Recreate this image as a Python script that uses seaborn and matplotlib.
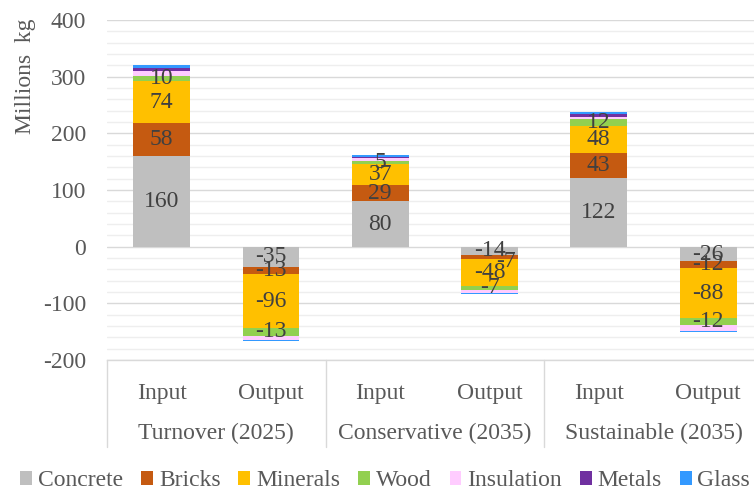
import numpy as np
import pandas as pd
import matplotlib
matplotlib.use("Agg")
import matplotlib.pyplot as plt
import seaborn as sns
from matplotlib.patches import Patch
from matplotlib.ticker import MultipleLocator
from matplotlib.transforms import blended_transform_factory, offset_copy

# Scenario groups and flows (one bar per scenario/flow pair)
scenarios = ["Turnover (2025)", "Conservative (2035)", "Sustainable (2035)"]
flows = ["Input", "Output"]
materials = ["Concrete", "Bricks", "Minerals", "Wood", "Insulation", "Metals", "Glass"]
colors = ["#BFBFBF", "#C55A11", "#FFC000", "#92D050", "#FFCCFF", "#7030A0", "#3399FF"]

# Material flows, millions kg, ordered:
# Turnover In, Turnover Out, Conservative In, Conservative Out, Sustainable In, Sustainable Out
concrete = [160, -35, 80, -14, 122, -26]
bricks = [58, -13, 29, -7, 43, -12]
minerals = [74, -96, 37, -48, 48, -88]
wood = [10, -13, 5, -7, 12, -12]
insulation = [8, -7, 5, -5, 4, -11]
metals = [6, -1, 3, -1, 6, -0.5]
glass = [5, -1, 3, -2, 3, -1.5]

# Which materials carry a value label
labelled = ["Concrete", "Bricks", "Minerals", "Wood"]

series = [concrete, bricks, minerals, wood, insulation, metals, glass]
bar_ids = [f"{s}|{f}" for s in scenarios for f in flows]

rows = []
for mat, vals in zip(materials, series):
    for bid, v in zip(bar_ids, vals):
        rows.append({"bar": bid, "material": mat, "value": v})
df = pd.DataFrame(rows)

sns.set_theme(style="white")
plt.rcParams["font.family"] = ["Liberation Serif", "DejaVu Serif"]

TEXT = "#595959"
LABEL = "#404040"
FS = 17

fig = plt.figure(figsize=(7.54, 4.92), dpi=100)
W, H = 754, 492
left_px, right_px, top_px, bot_px = 107, 754, 20, 360
ax = fig.add_axes([left_px / W, 1 - bot_px / H, (right_px - left_px) / W, (bot_px - top_px) / H])

bottom = np.zeros(len(bar_ids))
for mat, col in zip(materials, colors):
    sub = df[df["material"] == mat].set_index("bar").loc[bar_ids].reset_index()
    vals = sub["value"].to_numpy(dtype=float)
    sns.barplot(data=sub, x="bar", y="value", order=bar_ids, color=col,
                saturation=1, width=0.52, errorbar=None, bottom=bottom.copy(),
                linewidth=0, edgecolor="none", ax=ax, zorder=3)
    if mat in labelled:
        for i, v in enumerate(vals):
            dx, dy = 0, 0
            # keep the small bricks label of the conservative output off the concrete one
            if mat == "Bricks" and bar_ids[i] == "Conservative (2035)|Output":
                dx, dy = 11.5, -3.6
            tr = offset_copy(ax.transData, fig=fig, x=dx, y=dy, units="points")
            ax.text(i, bottom[i] + v / 2, f"{v:g}", ha="center", va="center",
                    fontsize=FS, color=LABEL, transform=tr, zorder=5)
    bottom += vals

ax.set_ylim(-200, 400)
ax.set_xlim(-0.5, 5.42)
ax.yaxis.set_major_locator(MultipleLocator(100))
ax.yaxis.set_minor_locator(MultipleLocator(20))
ax.set_axisbelow(True)
ax.grid(False)
ax.yaxis.grid(True, which="major", color="#D9D9D9", linewidth=1.0)
ax.yaxis.grid(True, which="minor", color="#EEEEEE", linewidth=1.0)
ax.set_xlabel("")
ax.set_ylabel("")
ax.set_xticks([])
ax.tick_params(axis="y", which="both", length=0, pad=15, labelsize=FS, labelcolor=TEXT)
ax.set_yticks([-200, -100, 0, 100, 200, 300, 400])
ax.set_yticklabels([f"{t}" for t in [-200, -100, 0, 100, 200, 300, 400]])
for s in ["left", "right", "top"]:
    ax.spines[s].set_visible(False)
ax.spines["bottom"].set_color("#D9D9D9")
ax.spines["bottom"].set_linewidth(1.0)

# Two-level category axis
bt = blended_transform_factory(ax.transData, ax.transAxes)
ax_h = bot_px - top_px
for i, bid in enumerate(bar_ids):
    ax.text(i, -33 / ax_h, bid.split("|")[1], ha="center", va="center",
            fontsize=FS, color=TEXT, transform=bt, clip_on=False)
for g, name in enumerate(scenarios):
    ax.text(2 * g + 0.5, -73 / ax_h, name, ha="center", va="center",
            fontsize=FS, color=TEXT, transform=bt, clip_on=False)
for xs in [-0.5, 1.5, 3.5]:
    ax.plot([xs, xs], [0, -87 / ax_h], color="#D9D9D9", lw=1.0,
            transform=bt, clip_on=False)

fig.text(25 / W, 1 - 76 / H, "Millions  kg", rotation=90, ha="center", va="center",
         fontsize=FS, color=TEXT)

handles = [Patch(facecolor=c, edgecolor="none", label=m) for m, c in zip(materials, colors)]
leg = fig.legend(handles=handles, loc="center", bbox_to_anchor=(0.511, 1 - 481 / H),
                 ncol=7, frameon=False, fontsize=FS, handlelength=0.5, handleheight=0.5,
                 handletextpad=0.25, columnspacing=0.76, borderaxespad=0, borderpad=0)
for t in leg.get_texts():
    t.set_color(TEXT)

fig.savefig("out.png", dpi=100)
